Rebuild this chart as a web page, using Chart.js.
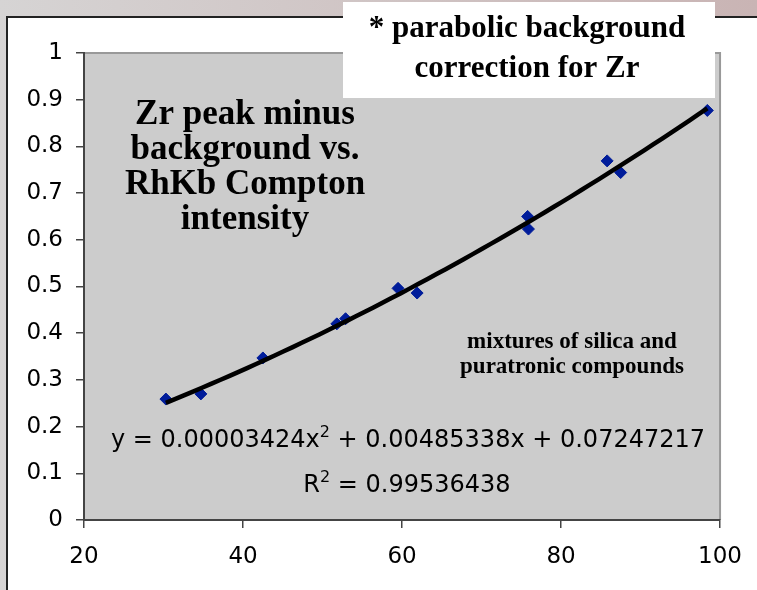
<!DOCTYPE html>
<html>
<head>
<meta charset="utf-8">
<title>Zr peak vs RhKb Compton</title>
<script src="https://cdn.jsdelivr.net/npm/chart.js@4.4.0/dist/chart.umd.min.js"></script>
<style>
  html, body { margin: 0; padding: 0; width: 757px; height: 590px; overflow: hidden; }
  body { position: relative; background: linear-gradient(to right, #d6d4d4, #c9b4b4); }
  #frame {
    position: absolute; left: 6px; top: 16px; width: 800px; height: 620px;
    background: #fff; border-left: 2px solid #222; border-top: 2px solid #222;
  }
  #wrap { position: absolute; left: 0; top: 0; width: 757px; height: 590px; }
</style>
</head>
<body>
<div id="frame"></div>
<div id="wrap"><canvas id="zrChart" width="757" height="590"></canvas></div>
<script>
// RhKb Compton intensity (x) and Zr peak minus background (y)
const comptonX = [30.3, 34.7, 42.5, 51.8, 52.9, 59.5, 61.9, 75.8, 75.9, 85.8, 87.5, 98.4];
const zrNet    = [0.259, 0.270, 0.347, 0.420, 0.431, 0.496, 0.486, 0.650, 0.623, 0.769, 0.744, 0.877];

// quadratic trendline coefficients: a*x^2 + b*x + c
const fitCoef = [0.00003424, 0.00485338, 0.07247217];
const fitR2 = '0.99536438';

const xTicks = [20, 40, 60, 80, 100];
const yTicks = [0, 0.1, 0.2, 0.3, 0.4, 0.5, 0.6, 0.7, 0.8, 0.9, 1];
const yTickLabels = ['0', '0.1', '0.2', '0.3', '0.4', '0.5', '0.6', '0.7', '0.8', '0.9', '1'];

const titleLines = ['Zr peak minus', 'background vs.', 'RhKb Compton', 'intensity'];
const noteLines = ['* parabolic background', 'correction for Zr'];
const sampleLines = ['mixtures of silica and', 'puratronic compounds'];

// trendline sampled across the data range
const fitPoints = [];
const xLo = Math.min(...comptonX), xHi = Math.max(...comptonX);
for (let i = 0; i <= 60; i++) {
    const x = xLo + (xHi - xLo) * i / 60;
    fitPoints.push({ x: x, y: fitCoef[0] * x * x + fitCoef[1] * x + fitCoef[2] });
}

const tickFont = { family: 'DejaVu Sans', size: 23 };

// text with superscript pieces, centred on cx
function drawParts(ctx, parts, cx, y, size) {
    ctx.textAlign = 'left';
    let total = 0;
    parts.forEach(p => {
        ctx.font = (p[1] ? Math.round(size * 0.65) : size) + 'px "DejaVu Sans"';
        total += ctx.measureText(p[0]).width;
    });
    let x = cx - total / 2;
    parts.forEach(p => {
        ctx.font = (p[1] ? Math.round(size * 0.65) : size) + 'px "DejaVu Sans"';
        ctx.fillText(p[0], x, p[1] ? y - size * 0.42 : y);
        x += ctx.measureText(p[0]).width;
    });
}

const plotDecor = {
    id: 'plotDecor',
    beforeDraw(chart) {
        const { ctx, chartArea: a } = chart;
        ctx.save();
        ctx.fillStyle = '#cccccc';
        ctx.fillRect(a.left, a.top, a.right - a.left, a.bottom - a.top);
        // light frame on the top and right of the plot
        ctx.strokeStyle = '#999999';
        ctx.lineWidth = 2;
        ctx.beginPath();
        ctx.moveTo(a.left, a.top);
        ctx.lineTo(a.right, a.top);
        ctx.lineTo(a.right, a.bottom);
        ctx.stroke();
        ctx.restore();
    },
    afterDraw(chart) {
        const ctx = chart.ctx;
        ctx.save();
        ctx.fillStyle = '#000';
        ctx.textAlign = 'center';
        ctx.textBaseline = 'alphabetic';

        ctx.font = 'bold 35px "Liberation Serif"';
        titleLines.forEach((t, i) => ctx.fillText(t, 245, 124 + i * 35));

        ctx.fillStyle = '#ffffff';
        ctx.fillRect(343, 2, 372, 96);
        ctx.fillStyle = '#000';
        ctx.font = 'bold 31px "Liberation Serif"';
        noteLines.forEach((t, i) => ctx.fillText(t, 527, 37 + i * 40));

        ctx.font = 'bold 23px "Liberation Serif"';
        sampleLines.forEach((t, i) => ctx.fillText(t, 572, 348 + i * 25));

        const c = fitCoef.map(v => v.toFixed(8));
        drawParts(ctx, [['y = ' + c[0] + 'x', false], ['2', true], [' + ' + c[1] + 'x + ' + c[2], false]], 408, 447, 24);
        drawParts(ctx, [['R', false], ['2', true], [' = ' + fitR2, false]], 407, 492, 24);
        ctx.restore();
    }
};

new Chart(document.getElementById('zrChart'), {
    type: 'scatter',
    data: {
        datasets: [{
            type: 'line',
            data: fitPoints,
            borderColor: '#000',
            borderWidth: 4.5,
            pointRadius: 0,
            fill: false,
            order: 0
        }, {
            data: comptonX.map((x, i) => ({ x: x, y: zrNet[i] })),
            pointStyle: 'rectRot',
            pointRadius: 6,
            backgroundColor: '#001c9a',
            borderColor: '#001c9a',
            borderWidth: 1,
            order: 1
        }]
    },
    options: {
        responsive: false,
        animation: false,
        events: [],
        layout: { padding: { left: 0, right: 32, top: 53, bottom: 0 } },
        plugins: { legend: { display: false }, tooltip: { enabled: false } },
        scales: {
            x: {
                type: 'linear', min: 20, max: 100,
                afterBuildTicks: s => { s.ticks = xTicks.map(v => ({ value: v })); },
                ticks: { color: '#000', font: tickFont, padding: 15, maxRotation: 0 },
                grid: { drawOnChartArea: false, tickLength: 8, color: '#444', lineWidth: 1.5 },
                border: { display: true, color: '#444', width: 2 },
                afterFit: s => { s.height = 70; }
            },
            y: {
                type: 'linear', min: 0, max: 1,
                afterBuildTicks: s => { s.ticks = yTicks.map(v => ({ value: v })); },
                ticks: {
                    color: '#000', font: tickFont, padding: 13,
                    callback: v => yTickLabels[yTicks.indexOf(v)]
                },
                grid: { drawOnChartArea: false, tickLength: 8, color: '#444', lineWidth: 1.5 },
                border: { display: true, color: '#444', width: 2 },
                afterFit: s => { s.width = 84; }
            }
        }
    },
    plugins: [plotDecor]
});
</script>
</body>
</html>
